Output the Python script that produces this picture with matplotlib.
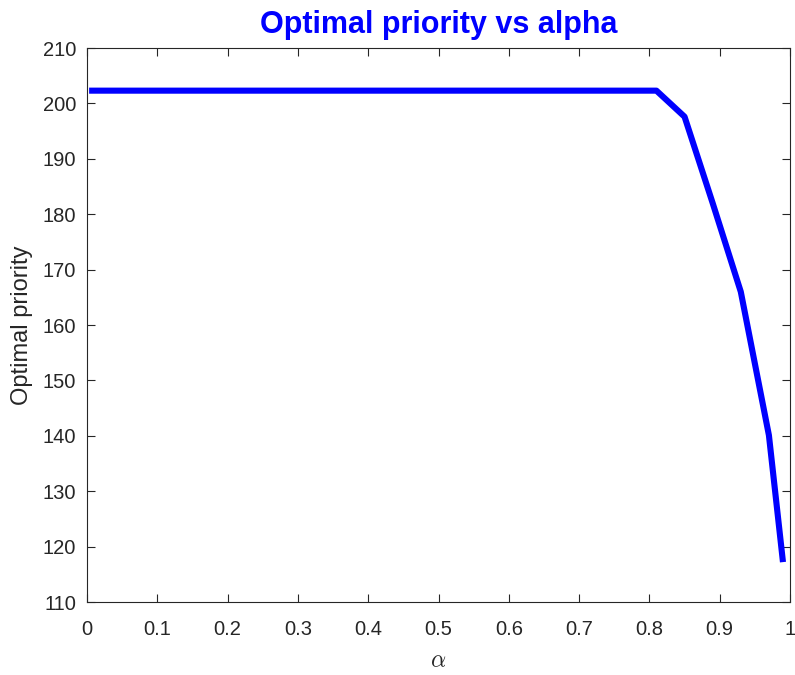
import matplotlib.pyplot as plt
import numpy as np

# Werte
alpha = [0.003, 0.81, 0.85, 0.89, 0.93, 0.97, 0.99]
priority = [202.3, 202.3, 197.6, 182.0, 166.0, 140.1, 117.2]

xticks = np.arange(0, 1.01, 0.1)
xticklabels = ['0', '0.1', '0.2', '0.3', '0.4', '0.5', '0.6', '0.7', '0.8', '0.9', '1']
yticks = np.arange(110, 211, 10)

plt.rcParams['font.family'] = ['Liberation Sans', 'DejaVu Sans']
plt.rcParams['mathtext.fontset'] = 'cm'

fig = plt.figure(figsize=(7.95, 6.75), dpi=100)
ax = fig.add_axes([87 / 795, 1 - 602 / 675, (790 - 87) / 795, (602 - 48) / 675])

ax.plot(alpha, priority, color='#0000ff', linewidth=4.4, solid_capstyle='butt', clip_on=False)

ax.set_xlim(0, 1)
ax.set_ylim(110, 210)
ax.set_xticks(xticks)
ax.set_xticklabels(xticklabels)
ax.set_yticks(yticks)

grey = '#262626'
ax.tick_params(direction='in', length=6, width=0.8, colors=grey, labelsize=14.5,
               top=True, right=True)
ax.tick_params(axis='x', pad=13)
ax.tick_params(axis='y', pad=8)
for s in ax.spines.values():
    s.set_color(grey)
    s.set_linewidth(0.8)

ax.set_title('Optimal priority vs alpha', color='#0000ff', fontsize=22, fontweight='bold', pad=10.5)
ax.set_xlabel(r'$\alpha$', fontsize=17, color=grey, labelpad=8)
ax.set_ylabel('Optimal priority', fontsize=17, color=grey, labelpad=7)

fig.savefig('out.png', dpi=100)
